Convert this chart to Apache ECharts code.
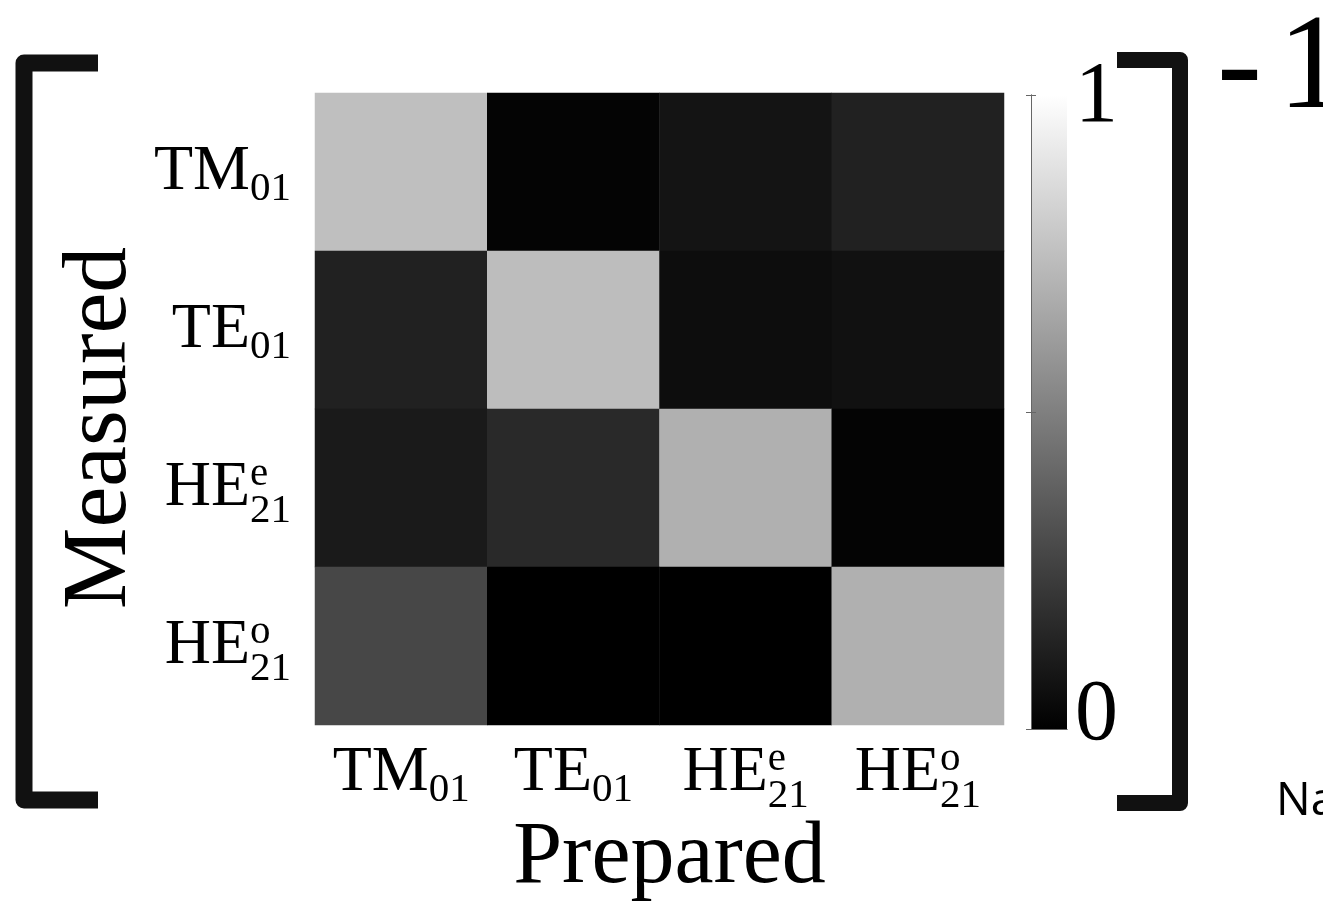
<!DOCTYPE html>
<html>
<head>
<meta charset="utf-8">
<script src="https://cdn.jsdelivr.net/npm/echarts@6/dist/echarts.min.js"></script>
<style>
  html, body { margin: 0; padding: 0; background: #ffffff; }
  #chart { width: 1323px; height: 902px; }
</style>
</head>
<body>
<div id="chart"></div>
<script>
// Mode labels (rich text: main letters, stacked superscript and subscript)
const modeLabels = [
  '{m|TM}{sb1|01}',
  '{m|TE}{sb1|01}',
  '{m|HE}{sp|e}{sb2|21}',
  '{m|HE}{sp|o}{sb2|21}'
];

// Normalised overlap for each measured mode (rows) vs prepared mode (columns)
const measuredTM01 = [0.75, 0.015, 0.08, 0.13];
const measuredTE01 = [0.13, 0.74, 0.05, 0.065];
const measuredHE21e = [0.10, 0.16, 0.69, 0.015];
const measuredHE21o = [0.28, 0.0, 0.0, 0.69];

// Colour bar range and end labels
const colorMin = 0;
const colorMax = 1;
const colorbarLabels = ['0', '1'];

const rows = [measuredTM01, measuredTE01, measuredHE21e, measuredHE21o];
const cells = [];
rows.forEach(function (row, y) {
  row.forEach(function (v, x) { cells.push([x, y, v]); });
});

const SERIF = 'Liberation Serif';
const LOW = '#000000';
const HIGH = '#ffffff';

const labelRich = {
  m:   { fontFamily: SERIF, fontSize: 64, lineHeight: 86, align: 'left', color: '#000' },
  sb1: { fontFamily: SERIF, fontSize: 41, lineHeight: 40, align: 'left', color: '#000', padding: [34, 0, 0, 0] },
  sp:  { fontFamily: SERIF, fontSize: 41, lineHeight: 40, align: 'left', color: '#000', width: 0, padding: [0, 0, 28, 0] },
  sb2: { fontFamily: SERIF, fontSize: 41, lineHeight: 40, align: 'left', color: '#000', padding: [46, 0, 0, 0] }
};

const chart = echarts.init(document.getElementById('chart'), null, { renderer: 'canvas' });

const edge = { show: true, lineStyle: { color: '#666', width: 1 } };

chart.setOption({
  backgroundColor: '#ffffff',
  animation: false,
  grid: [
    { left: 315, top: 93, width: 689, height: 632, outerBoundsMode: 'none' },
    {
      // colour bar: same black-to-white ramp as the visual map
      left: 1031, top: 95, width: 36, height: 634, outerBoundsMode: 'none',
      show: true, borderWidth: 0,
      backgroundColor: new echarts.graphic.LinearGradient(0, 0, 0, 1, [
        { offset: 0, color: HIGH }, { offset: 1, color: LOW }
      ])
    }
  ],
  xAxis: [
    {
      type: 'category', gridIndex: 0, data: modeLabels, position: 'bottom',
      axisLine: { show: false }, axisTick: { show: false }, splitLine: { show: false },
      axisLabel: { interval: 0, margin: 5, rich: labelRich, color: '#000' },
      name: 'Prepared', nameLocation: 'middle', nameGap: 90, nameMoveOverlap: false,
      nameTextStyle: { fontFamily: SERIF, fontSize: 88, color: '#000', padding: [0, 0, 0, 20] }
    },
    {
      type: 'value', gridIndex: 1, min: 0, max: 1, position: 'bottom', z: 6,
      axisLine: edge, axisTick: { show: false }, axisLabel: { show: false }, splitLine: { show: false }
    },
    {
      type: 'value', gridIndex: 1, min: 0, max: 1, position: 'top', z: 6,
      axisLine: edge, axisTick: { show: false }, axisLabel: { show: false }, splitLine: { show: false }
    }
  ],
  yAxis: [
    {
      type: 'category', gridIndex: 0, data: modeLabels, inverse: true,
      axisLine: { show: false }, axisTick: { show: false }, splitLine: { show: false },
      axisLabel: { interval: 0, margin: 24, rich: labelRich, color: '#000' },
      name: 'Measured', nameLocation: 'middle', nameGap: 168, nameRotate: 90, nameMoveOverlap: false,
      nameTextStyle: { fontFamily: SERIF, fontSize: 92, color: '#000', padding: [0, 38, 0, 0] }
    },
    {
      type: 'value', gridIndex: 1, min: colorMin, max: colorMax, interval: 0.5, position: 'right', z: 6,
      axisLine: edge,
      axisTick: { show: true, inside: true, length: 5, lineStyle: { color: '#666' } },
      splitLine: { show: false },
      axisLabel: {
        margin: 8, showMinLabel: true, showMaxLabel: true,
        formatter: function (v) {
          if (v === colorMin) return '{b|' + colorbarLabels[0] + '}';
          if (v === colorMax) return '{t|' + colorbarLabels[1] + '}';
          return '';
        },
        rich: {
          t: { fontFamily: SERIF, fontSize: 86, color: '#000', padding: [6, 0, 0, 0] },
          b: { fontFamily: SERIF, fontSize: 86, color: '#000', padding: [0, 0, 26, 0] }
        }
      }
    },
    {
      type: 'value', gridIndex: 1, min: colorMin, max: colorMax, interval: 0.5, position: 'left', z: 6,
      axisLine: edge,
      axisTick: { show: true, inside: true, length: 5, lineStyle: { color: '#666' } },
      axisLabel: { show: false }, splitLine: { show: false }
    }
  ],
  visualMap: {
    type: 'continuous', min: colorMin, max: colorMax, seriesIndex: 0, dimension: 2,
    show: false, inRange: { color: [LOW, HIGH] }
  },
  series: [{
    type: 'heatmap', xAxisIndex: 0, yAxisIndex: 0, data: cells,
    label: { show: false }, emphasis: { disabled: true }, silent: true
  }],
  graphic: [
    {
      type: 'polyline', silent: true,
      shape: { points: [[98, 63], [24, 63], [24, 800], [98, 800]] },
      style: { stroke: '#111', lineWidth: 17, fill: null, lineJoin: 'round' }
    },
    {
      type: 'polyline', silent: true,
      shape: { points: [[1117, 60], [1180, 60], [1180, 803], [1117, 803]] },
      style: { stroke: '#111', lineWidth: 16, fill: null, lineJoin: 'round' }
    },
    {
      type: 'text', silent: true, x: 1217, y: 72,
      style: {
        text: '{a|-}{b|1}', verticalAlign: 'middle', align: 'left',
        rich: {
          a: { fontFamily: SERIF, fontSize: 135, color: '#000', padding: [0, 16, 0, 0] },
          b: { fontFamily: SERIF, fontSize: 135, color: '#000' }
        }
      }
    },
    {
      type: 'text', silent: true, x: 1276, y: 802,
      style: { text: 'Na', font: '46px "Open Sans"', fill: '#000', verticalAlign: 'middle', align: 'left' }
    }
  ]
});
</script>
</body>
</html>
